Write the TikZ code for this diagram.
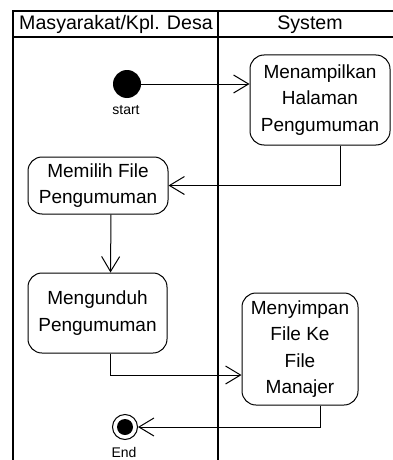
\documentclass[tikz,border=0pt]{standalone}
\usepackage{fontspec}
\setmainfont{Liberation Sans}
\usetikzlibrary{arrows.meta}
\begin{document}
\begin{tikzpicture}[x=1pt,y=-1pt,
  action/.style={draw, line width=1pt, rounded corners=14pt, align=center,
    font=\fontsize{19}{26.5}\selectfont, inner sep=0pt},
  flow/.style={line width=1pt, -{Straight Barb[length=15pt,width=18pt,line width=1pt]}},
  lane/.style={line width=2pt},
  header/.style={font=\fontsize{19.6}{22}\selectfont},
  small/.style={font=\fontsize{14}{16}\selectfont}]
\clip (0,0) rectangle (393,460);

% swimlane frame
\draw[lane] (13,470) -- (13,11) -- (400,11);
\draw[lane] (13,37.5) -- (400,37.5);
\draw[line width=2.5pt] (218,11) -- (218,470);
\node[header] (laneA) at (116,24.5) {Masyarakat/Kpl. Desa};
\node[header] (laneB) at (310,24.5) {System};

% initial and final states
\node[circle, fill=black, minimum size=28pt, inner sep=0pt] (start) at (127,84) {};
\node[small] (startlbl) at (126,110) {start};
\node[circle, draw, line width=1pt, minimum size=25pt, inner sep=0pt] (end) at (125,427) {};
\node[circle, fill=black, minimum size=16pt, inner sep=0pt] (endcore) at (end) {};
\node[small] (endlbl) at (124,452) {End};

% actions
\node[action, minimum width=140pt, minimum height=90pt] (tampil) at (320,100) {Menampilkan\\Halaman\\Pengumuman};
\node[action, minimum width=140pt, minimum height=57pt] (pilih) at (98,185.5) {Memilih File\\Pengumuman};
\node[action, minimum width=139pt, minimum height=80pt] (unduh) at (97.5,313) {Mengunduh\\Pengumuman};
\node[action, minimum width=116pt, minimum height=112pt] (simpan) at (300,349) {Menyimpan\\File Ke\\File\\Manajer};

% control flow
\draw[flow] (start) -- (start -| tampil.west);
\draw[flow] ([xshift=20pt]tampil.south) |- (pilih.east);
\draw[flow] ([xshift=13pt]pilih.south) -- ([xshift=13pt]unduh.north);
\draw[flow] ([xshift=13pt]unduh.south) |- ([yshift=-26pt]simpan.west);
\draw[flow] ([xshift=20pt]simpan.south) |- (end.east);
\end{tikzpicture}
\end{document}
